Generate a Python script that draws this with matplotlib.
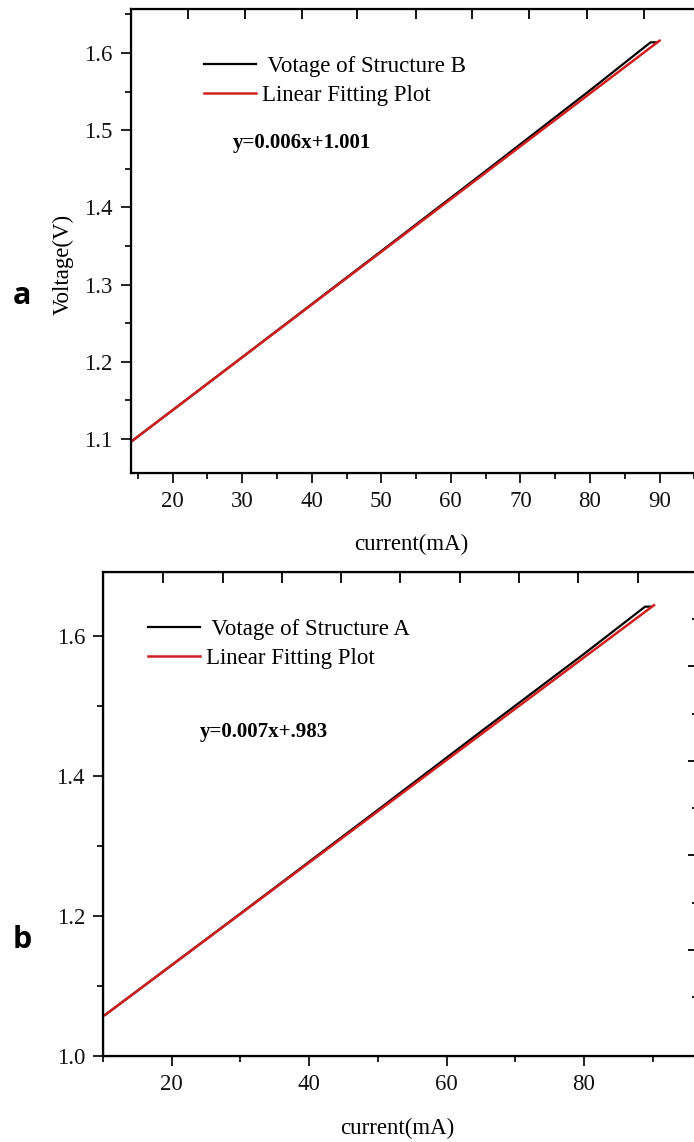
from matplotlib import pyplot as plt

# Panel a (Structure B)
a_current = [13.95, 30.0, 50.0, 65.0, 80.0, 88.7, 89.6]
a_voltage = [1.096, 1.206, 1.3435, 1.4471, 1.5517, 1.6138, 1.6138]
a_fit_current = [13.95, 90.0]
a_fit_voltage = [1.096, 1.616]
a_top_ticks = [22.2, 30.4, 38.6, 46.5, 55.0, 63.0, 71.3, 79.5, 87.7]

# Panel b (Structure A)
b_current = [10.3, 30.0, 50.0, 65.0, 80.0, 88.9, 89.7]
b_voltage = [1.0586, 1.2035, 1.3515, 1.4634, 1.5743, 1.6419, 1.6419]
b_fit_current = [10.3, 90.2]
b_fit_voltage = [1.0586, 1.644]
b_top_ticks = [18.7, 27.5, 36.1, 44.6, 53.2, 62.0, 70.6, 79.1, 87.9]
b_right_major = [1.557, 1.421, 1.287, 1.151]
b_right_minor = [1.624, 1.489, 1.354, 1.219, 1.084]

W, H = 694, 1142
RED = '#d01f1f'
plt.rcParams['font.family'] = ['Liberation Serif', 'DejaVu Serif']
plt.rcParams['font.size'] = 16.5

fig = plt.figure(figsize = (W / 100, H / 100), dpi = 100)

# Place an axes using pixel edges of the picture.
def pixel_axes(left, top, right, bottom):
    return fig.add_axes([left / W, 1 - bottom / H, (right - left) / W, (bottom - top) / H])

def style_axes(ax):
    for spine in ax.spines.values():
        spine.set_linewidth(1.6)
    ax.tick_params(which = 'both', direction = 'out', width = 1.3,
        top = False, right = False, colors = '#111111')
    ax.tick_params(which = 'major', length = 7, pad = 6)
    ax.tick_params(which = 'minor', length = 4)

def draw_panel(ax, current, voltage, fit_current, fit_voltage, name, equation,
               legend_xy, equation_xy, xlabel_xy):
    ax.plot(current, voltage, color = 'black', linewidth = 1.6,
        label = ' Votage of Structure ' + name)
    ax.plot(fit_current, fit_voltage, color = RED, linewidth = 1.8,
        label = 'Linear Fitting Plot')
    ax.legend(loc = 'upper left', frameon = False, borderpad = 0,
        borderaxespad = 0, handlelength = 2.27, handletextpad = 0.27,
        labelspacing = 0.34,
        bbox_to_anchor = (legend_xy[0] / W, 1 - legend_xy[1] / H),
        bbox_transform = fig.transFigure)
    fig.text(equation_xy[0] / W, 1 - equation_xy[1] / H, equation,
        fontsize = 15, fontweight = 'bold', va = 'center', ha = 'left')
    fig.text(xlabel_xy[0] / W, 1 - xlabel_xy[1] / H, 'current(mA)',
        va = 'center', ha = 'center')

# Panel a.
ax_a = pixel_axes(130.5, 9, 700, 472.5)
ax_a.set_xlim(13.95, 95.81)
ax_a.set_ylim(1.0567, 1.657)
ax_a.set_xticks([20, 30, 40, 50, 60, 70, 80, 90])
ax_a.set_xticks([15, 25, 35, 45, 55, 65, 75, 85, 95], minor = True)
ax_a.set_yticks([1.1, 1.2, 1.3, 1.4, 1.5, 1.6])
ax_a.set_yticks([1.15, 1.25, 1.35, 1.45, 1.55, 1.65], minor = True)
style_axes(ax_a)
draw_panel(ax_a, a_current, a_voltage, a_fit_current, a_fit_voltage, 'B',
    'y=0.006x+1.001', (204, 56), (233, 143), (411, 544))

top_a = ax_a.twiny()
top_a.set_xlim(ax_a.get_xlim())
top_a.set_xticks(a_top_ticks)
top_a.set_xticklabels([])
top_a.tick_params(direction = 'in', length = 7, width = 1.3)

# Panel b.
ax_b = pixel_axes(103, 572, 695.5, 1056)
ax_b.set_xlim(10.0, 96.24)
ax_b.set_ylim(1.0, 1.6914)
ax_b.set_xticks([20, 40, 60, 80])
ax_b.set_xticks([10, 30, 50, 70, 90], minor = True)
ax_b.set_yticks([1.0, 1.2, 1.4, 1.6])
ax_b.set_yticks([1.1, 1.3, 1.5], minor = True)
ax_b.set_yticklabels(['1.0', '1.2', '1.4', '1.6'])
style_axes(ax_b)
draw_panel(ax_b, b_current, b_voltage, b_fit_current, b_fit_voltage, 'A',
    'y=0.007x+.983', (148, 619), (200, 732), (397, 1128))

top_b = ax_b.twiny()
top_b.set_xlim(ax_b.get_xlim())
top_b.set_xticks(b_top_ticks)
top_b.set_xticklabels([])
top_b.tick_params(direction = 'in', length = 8, width = 1.3)

right_b = ax_b.twinx()
right_b.set_ylim(ax_b.get_ylim())
right_b.set_yticks(b_right_major)
right_b.set_yticks(b_right_minor, minor = True)
right_b.set_yticklabels([])
right_b.tick_params(which = 'major', direction = 'in', length = 6, width = 1.3)
right_b.tick_params(which = 'minor', direction = 'in', length = 3, width = 1.3)

# Axis label and panel letters.
fig.text(63 / W, 1 - 264 / H, 'Voltage(V)', rotation = 90,
    va = 'center', ha = 'center')
fig.text(22 / W, 1 - 296 / H, 'a', family = 'Open Sans', fontweight = 'bold',
    fontsize = 22, va = 'center', ha = 'center')
fig.text(22 / W, 1 - 940 / H, 'b', family = 'Open Sans', fontweight = 'bold',
    fontsize = 22, va = 'center', ha = 'center')

plt.savefig('out.png', dpi = 100)
